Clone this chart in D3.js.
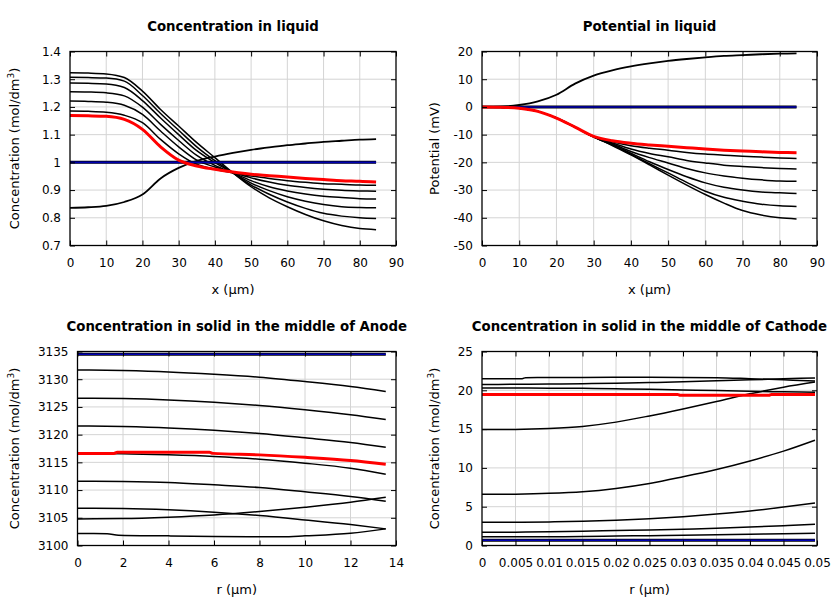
<!DOCTYPE html>
<html><head><meta charset="utf-8">
<script src="https://cdn.jsdelivr.net/npm/d3@7/dist/d3.min.js"></script>
<style>body{margin:0;background:#fff}</style>
</head><body>
<svg id="c" width="840" height="600" xmlns="http://www.w3.org/2000/svg"></svg>
<script>
// ---------------- DATA ----------------
// Panel 1: concentration in liquid (x in µm)
const xLiq = [0,5,10,15,20,25,30,35,40,45,50,55,60,65,70,75,80,84.5];
const concA1 = [1.323,1.322,1.319,1.306,1.257,1.191,1.131,1.071,1.017,0.962,0.912,0.872,0.840,0.812,0.789,0.772,0.761,0.757];
const concA2 = [1.307,1.306,1.304,1.293,1.241,1.176,1.116,1.056,1.006,0.962,0.918,0.885,0.857,0.834,0.816,0.806,0.800,0.797];
const concA3 = [1.286,1.285,1.283,1.270,1.223,1.160,1.100,1.042,0.999,0.962,0.925,0.898,0.876,0.860,0.848,0.840,0.837,0.836];
const concA4 = [1.255,1.254,1.251,1.240,1.199,1.137,1.079,1.025,0.989,0.962,0.934,0.912,0.897,0.886,0.878,0.873,0.869,0.868];
const concA5 = [1.221,1.220,1.217,1.206,1.173,1.113,1.056,1.008,0.983,0.963,0.944,0.929,0.917,0.909,0.903,0.899,0.897,0.896];
const concA6 = [1.185,1.184,1.181,1.170,1.143,1.083,1.031,0.993,0.975,0.962,0.951,0.942,0.934,0.928,0.923,0.921,0.918,0.917];
const concRise = [0.836,0.838,0.843,0.857,0.884,0.942,0.980,1.005,1.021,1.034,1.045,1.054,1.062,1.068,1.074,1.078,1.082,1.084];
const concRed = [1.169,1.168,1.166,1.155,1.119,1.056,1.008,0.987,0.975,0.965,0.957,0.952,0.947,0.942,0.938,0.934,0.932,0.929];
const concBlue = [1,1,1,1,1,1,1,1,1,1,1,1,1,1,1,1,1,1];

// Panel 2: potential in liquid (mV)
const potB1 = [0,-0.1,-0.5,-1.6,-4.0,-7.3,-10.7,-12.6,-14.0,-14.9,-15.6,-16.4,-17.0,-17.4,-17.8,-18.1,-18.4,-18.6];
const potB2 = [0,-0.1,-0.5,-1.6,-4.0,-7.3,-10.8,-13.0,-15.2,-16.8,-18.0,-19.3,-20.2,-21.0,-21.5,-21.9,-22.2,-22.4];
const potB3 = [0,-0.1,-0.5,-1.6,-4.0,-7.3,-10.8,-13.3,-16.1,-18.3,-20.2,-22.2,-23.8,-24.9,-25.7,-26.3,-26.7,-26.8];
const potB4 = [0,-0.1,-0.5,-1.6,-4.0,-7.3,-10.8,-13.6,-16.7,-19.8,-22.6,-25.2,-27.4,-29.0,-30.0,-30.7,-31.0,-31.2];
const potB5 = [0,-0.1,-0.5,-1.6,-4.0,-7.3,-10.8,-13.8,-17.1,-20.5,-23.8,-27.2,-30.4,-32.6,-34.0,-35.1,-35.7,-35.9];
const potB6 = [0,-0.1,-0.5,-1.6,-4.0,-7.3,-10.8,-13.9,-17.3,-20.9,-24.6,-28.2,-31.6,-34.7,-37.4,-39.0,-40.0,-40.4];
const potRise = [0,0.1,0.7,2.0,4.4,8.4,11.3,13.2,14.6,15.7,16.6,17.3,17.9,18.4,18.7,19.0,19.2,19.3];
const potRed = [0,-0.1,-0.5,-1.6,-4.0,-7.3,-10.6,-12.2,-13.1,-13.7,-14.2,-14.7,-15.2,-15.6,-15.9,-16.2,-16.4,-16.5];
const potBlue = [0,0,0,0,0,0,0,0,0,0,0,0,0,0,0,0,0,0];

// Panel 3: anode solid concentration (r in µm)
const rAn = [0,2,4,6,8,10,12,13.55];
const anC1 = [3131.68,3131.56,3131.32,3130.9,3130.36,3129.58,3128.68,3127.78];
const anC2 = [3126.57,3126.5,3126.27,3125.85,3125.25,3124.47,3123.57,3122.72];
const anC3 = [3121.58,3121.46,3121.22,3120.8,3120.2,3119.42,3118.58,3117.73];
const anC4 = [3116.6,3116.55,3116.35,3116.05,3115.57,3114.85,3113.94,3112.86];
const anC5 = [3111.6,3111.54,3111.36,3110.94,3110.46,3109.68,3108.83,3107.99];
const anC6 = [3106.73,3106.67,3106.43,3106.0,3105.4,3104.62,3103.78,3103.0];
const anC7 = [3104.8,3104.85,3105.1,3105.5,3106.13,3106.9,3107.8,3108.7];
const rAnC8 = [0,1.3,1.8,4,6,8,9,10,12,13.55];
const anC8 = [3102.16,3102.14,3101.86,3101.74,3101.62,3101.56,3101.56,3101.74,3102.22,3103.0];
const rAnRed = [0,1.6,1.75,5.8,5.95,8,10,12,13.55];
const anRed = [3116.6,3116.6,3116.83,3116.83,3116.62,3116.35,3115.9,3115.33,3114.67];
const rAnBlue = [0,13.55];
const anBlue = [3134.5,3134.5];

// Panel 4: cathode solid concentration (r in µm)
const rCa = [0,0.005,0.01,0.015,0.02,0.025,0.03,0.035,0.04,0.045,0.0497];
const caD1 = [1.12,1.12,1.13,1.15,1.22,1.27,1.33,1.39,1.45,1.52,1.58];
const caD2 = [1.71,1.72,1.76,1.84,1.92,1.99,2.1,2.22,2.38,2.56,2.74];
const caD3 = [3.0,3.0,3.04,3.12,3.25,3.45,3.72,4.05,4.45,4.95,5.48];
const caD4 = [6.59,6.62,6.72,6.93,7.36,8.0,8.86,9.8,10.9,12.16,13.57];
const caD5 = [14.94,14.96,15.08,15.35,15.9,16.7,17.6,18.55,19.55,20.4,21.06];
const caE2 = [20.76,20.77,20.8,20.85,20.92,21.0,21.1,21.22,21.35,21.48,21.6];
const caE3 = [20.3,20.3,20.28,20.25,20.2,20.13,20.05,19.96,19.87,19.8,19.75];
const rCaE1 = [0,0.006,0.0065,0.015,0.025,0.035,0.04,0.045,0.0497];
const caE1 = [21.5,21.5,21.63,21.66,21.68,21.63,21.5,21.35,21.2];
const rCaRed = [0,0.0292,0.0296,0.0428,0.0432,0.0497];
const caRed = [19.47,19.47,19.35,19.35,19.47,19.47];
const rCaBlue = [0,0.0497];
const caBlue = [0.68,0.68];

// Tick values
const ticksXLiq = [0,10,20,30,40,50,60,70,80,90];
const ticksYConc = [0.7,0.8,0.9,1,1.1,1.2,1.3,1.4];
const ticksYPot = [-50,-40,-30,-20,-10,0,10,20];
const ticksXAn = [0,2,4,6,8,10,12,14];
const ticksYAn = [3100,3105,3110,3115,3120,3125,3130,3135];
const ticksXCa = [0,0.005,0.01,0.015,0.02,0.025,0.03,0.035,0.04,0.045,0.05];
const ticksYCa = [0,5,10,15,20,25];

// ---------------- DRAW ----------------
const svg = d3.select('#c');
const FONT = 'DejaVu Sans, sans-serif';
const BLACK = '#000', RED = '#ff0000', BLUE = '#0000b4';

function drawPanel(p) {
  const g = svg.append('g');
  const x = d3.scaleLinear().domain(p.xDomain).range([p.left, p.right]);
  const y = d3.scaleLinear().domain(p.yDomain).range([p.bottom, p.top]);
  // grid
  g.append('g').selectAll('line').data(p.xTicks.slice(1, -1)).join('line')
    .attr('x1', d => x(d)).attr('x2', d => x(d)).attr('y1', p.top).attr('y2', p.bottom)
    .attr('stroke', '#d4d4d4').attr('stroke-width', 1);
  g.append('g').selectAll('line').data(p.yTicks.slice(1, -1)).join('line')
    .attr('y1', d => y(d)).attr('y2', d => y(d)).attr('x1', p.left).attr('x2', p.right)
    .attr('stroke', '#d4d4d4').attr('stroke-width', 1);
  // series
  const line = d3.line().x(d => x(d[0])).y(d => y(d[1])).curve(d3.curveMonotoneX);
  p.series.forEach(s => {
    if (s.under) {
      g.append('path').datum(d3.zip(s.x, s.y)).attr('d', line).attr('fill', 'none')
        .attr('stroke', '#000').attr('stroke-width', s.w + 1.4);
    }
    g.append('path').datum(d3.zip(s.x, s.y)).attr('d', line).attr('fill', 'none')
      .attr('stroke', s.color).attr('stroke-width', s.w)
      .attr('stroke-linejoin', 'round').attr('stroke-linecap', 'butt');
  });
  // axes
  const fmt = d => String(d);
  const ax = [
    [d3.axisBottom(x).tickValues(p.xTicks).tickFormat(fmt).tickPadding(13), `translate(0,${p.bottom})`],
    [d3.axisTop(x).tickValues(p.xTicks).tickFormat(''), `translate(0,${p.top})`],
    [d3.axisLeft(y).tickValues(p.yTicks).tickFormat(fmt).tickPadding(9), `translate(${p.left},0)`],
    [d3.axisRight(y).tickValues(p.yTicks).tickFormat(''), `translate(${p.right},0)`]
  ];
  ax.forEach(([a, t]) => {
    const ag = g.append('g').attr('transform', t).call(a.tickSizeInner(-5).tickSizeOuter(0));
    ag.select('.domain').remove();
    ag.selectAll('line').attr('stroke', '#000').attr('stroke-width', 1);
    ag.selectAll('text').attr('font-family', FONT).attr('font-size', 12).attr('fill', '#000');
  });
  // frame
  g.append('rect').attr('x', p.left).attr('y', p.top)
    .attr('width', p.right - p.left).attr('height', p.bottom - p.top)
    .attr('fill', 'none').attr('stroke', '#000').attr('stroke-width', 1.3);
  // title
  g.append('text').attr('x', (p.left + p.right) / 2).attr('y', p.top - 20.5)
    .attr('text-anchor', 'middle').attr('font-family', FONT).attr('font-weight', 'bold')
    .attr('font-size', 13.3).text(p.title);
  // x label
  g.append('text').attr('x', (p.left + p.right) / 2).attr('y', p.bottom + 48)
    .attr('text-anchor', 'middle').attr('font-family', FONT).attr('font-size', 13).text(p.xLabel);
  // y label
  const yl = g.append('text').attr('transform', `translate(${p.yLabelX},${(p.top + p.bottom) / 2}) rotate(-90)`)
    .attr('text-anchor', 'middle').attr('font-family', FONT).attr('font-size', 13);
  if (p.yLabelSup) {
    yl.append('tspan').text(p.yLabel);
    yl.append('tspan').attr('dy', -5).attr('font-size', 9).text(p.yLabelSup);
    yl.append('tspan').attr('dy', 5).text(')');
  } else {
    yl.text(p.yLabel);
  }
}

drawPanel({
  left: 70, right: 396, top: 51.5, bottom: 245.5,
  xDomain: [0, 90], yDomain: [0.7, 1.4], xTicks: ticksXLiq, yTicks: ticksYConc,
  title: 'Concentration in liquid', xLabel: 'x (µm)',
  yLabel: 'Concentration (mol/dm', yLabelSup: '3', yLabelX: 18.5,
  series: [
    {x: xLiq, y: concA1, color: BLACK, w: 1.5},
    {x: xLiq, y: concA2, color: BLACK, w: 1.5},
    {x: xLiq, y: concA3, color: BLACK, w: 1.5},
    {x: xLiq, y: concA4, color: BLACK, w: 1.5},
    {x: xLiq, y: concA5, color: BLACK, w: 1.5},
    {x: xLiq, y: concA6, color: BLACK, w: 1.5},
    {x: xLiq, y: concRise, color: BLACK, w: 1.8},
    {x: xLiq, y: concBlue, color: BLUE, w: 1.6, under: true},
    {x: xLiq, y: concRed, color: RED, w: 3}
  ]
});

drawPanel({
  left: 482, right: 817, top: 51.5, bottom: 245.5,
  xDomain: [0, 90], yDomain: [-50, 20], xTicks: ticksXLiq, yTicks: ticksYPot,
  title: 'Potential in liquid', xLabel: 'x (µm)',
  yLabel: 'Potential (mV)', yLabelX: 438.5,
  series: [
    {x: xLiq, y: potB1, color: BLACK, w: 1.5},
    {x: xLiq, y: potB2, color: BLACK, w: 1.5},
    {x: xLiq, y: potB3, color: BLACK, w: 1.5},
    {x: xLiq, y: potB4, color: BLACK, w: 1.5},
    {x: xLiq, y: potB5, color: BLACK, w: 1.5},
    {x: xLiq, y: potB6, color: BLACK, w: 1.5},
    {x: xLiq, y: potRise, color: BLACK, w: 1.8},
    {x: xLiq, y: potBlue, color: BLUE, w: 1.6, under: true},
    {x: xLiq, y: potRed, color: RED, w: 3}
  ]
});

drawPanel({
  left: 77.5, right: 396, top: 351.5, bottom: 545.5,
  xDomain: [0, 14], yDomain: [3100, 3135], xTicks: ticksXAn, yTicks: ticksYAn,
  title: 'Concentration in solid in the middle of Anode', xLabel: 'r (µm)',
  yLabel: 'Concentration (mol/dm', yLabelSup: '3', yLabelX: 18.5,
  series: [
    {x: rAn, y: anC1, color: BLACK, w: 1.5},
    {x: rAn, y: anC2, color: BLACK, w: 1.5},
    {x: rAn, y: anC3, color: BLACK, w: 1.5},
    {x: rAn, y: anC4, color: BLACK, w: 1.5},
    {x: rAn, y: anC5, color: BLACK, w: 1.5},
    {x: rAn, y: anC6, color: BLACK, w: 1.5},
    {x: rAn, y: anC7, color: BLACK, w: 1.5},
    {x: rAnC8, y: anC8, color: BLACK, w: 1.5},
    {x: rAnBlue, y: anBlue, color: BLUE, w: 1.6, under: true},
    {x: rAnRed, y: anRed, color: RED, w: 3}
  ]
});

drawPanel({
  left: 482, right: 817, top: 351.5, bottom: 545.5,
  xDomain: [0, 0.05], yDomain: [0, 25], xTicks: ticksXCa, yTicks: ticksYCa,
  title: 'Concentration in solid in the middle of Cathode', xLabel: 'r (µm)',
  yLabel: 'Concentration (mol/dm', yLabelSup: '3', yLabelX: 438.5,
  series: [
    {x: rCa, y: caD1, color: BLACK, w: 1.5},
    {x: rCa, y: caD2, color: BLACK, w: 1.5},
    {x: rCa, y: caD3, color: BLACK, w: 1.5},
    {x: rCa, y: caD4, color: BLACK, w: 1.5},
    {x: rCa, y: caD5, color: BLACK, w: 1.5},
    {x: rCa, y: caE2, color: BLACK, w: 1.5},
    {x: rCa, y: caE3, color: BLACK, w: 1.5},
    {x: rCaE1, y: caE1, color: BLACK, w: 1.5},
    {x: rCaBlue, y: caBlue, color: BLUE, w: 1.6, under: true},
    {x: rCaRed, y: caRed, color: RED, w: 3}
  ]
});
</script>
</body></html>
